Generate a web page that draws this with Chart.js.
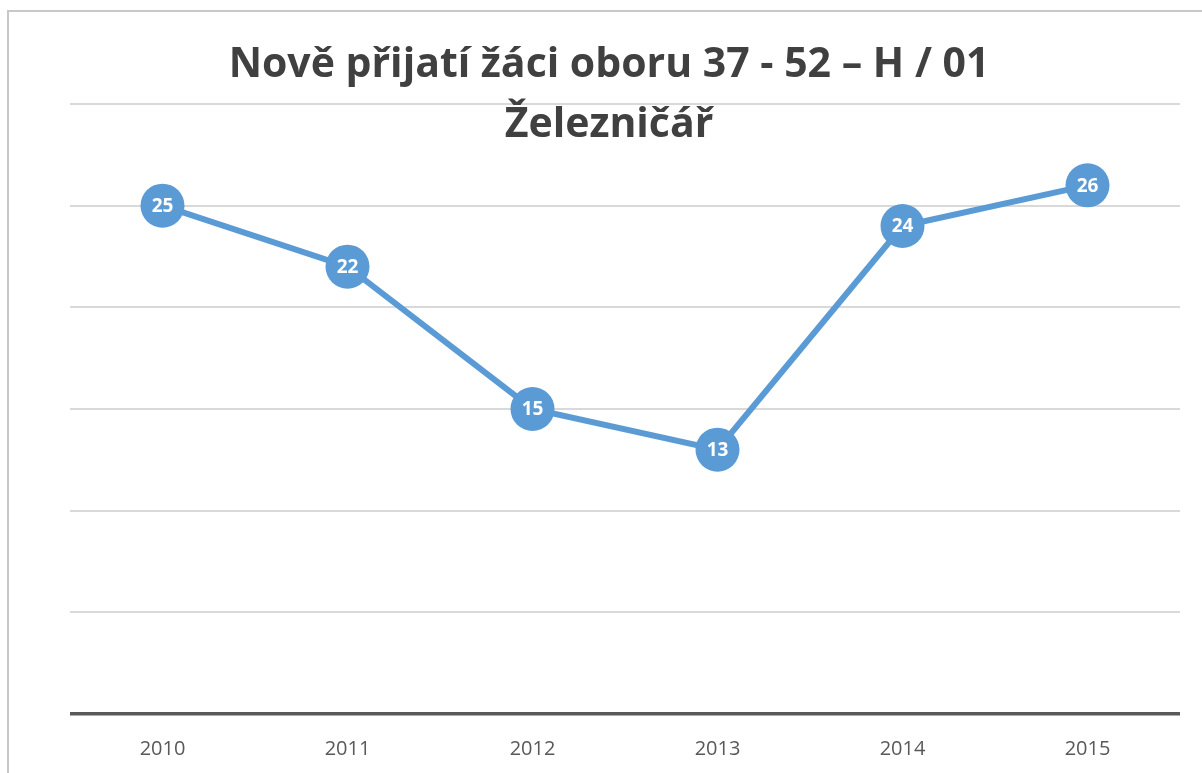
<!DOCTYPE html>
<html>
<head>
<meta charset="utf-8">
<script src="https://cdn.jsdelivr.net/npm/chart.js@4"></script>
<style>
    html, body { margin: 0; padding: 0; background: #ffffff; }
    #wrap { width: 1202px; height: 773px; position: relative; }
</style>
</head>
<body>
<div id="wrap"><canvas id="lineChart" width="1202" height="773"></canvas></div>
<script>
// Data
const years = ['2010', '2011', '2012', '2013', '2014', '2015'];
const students = [25, 22, 15, 13, 24, 26];
const titleLines = ['Nově přijatí žáci oboru 37 - 52 – H / 01', 'Železničář'];

const blue = '#5b9bd5';

// Frame + white background
const framePlugin = {
    id: 'frame',
    beforeDraw(chart) {
        const ctx = chart.ctx;
        ctx.save();
        ctx.fillStyle = '#ffffff';
        ctx.fillRect(0, 0, chart.width, chart.height);
        ctx.strokeStyle = '#c8c8c8';
        ctx.lineWidth = 2;
        ctx.strokeRect(8, 11, chart.width + 20, chart.height + 20);
        ctx.restore();
    }
};

// Title drawn over the plot (like the original)
const titlePlugin = {
    id: 'overTitle',
    afterDraw(chart) {
        const ctx = chart.ctx;
        ctx.save();
        ctx.fillStyle = '#404040';
        ctx.font = 'bold 41px "Open Sans", sans-serif';
        ctx.textAlign = 'center';
        ctx.textBaseline = 'alphabetic';
        ctx.fillText(titleLines[0], 609, 77);
        ctx.fillText(titleLines[1], 609, 137);
        ctx.restore();
    }
};

// Values inside the markers
const labelPlugin = {
    id: 'pointLabels',
    afterDatasetsDraw(chart) {
        const ctx = chart.ctx;
        const meta = chart.getDatasetMeta(0);
        ctx.save();
        ctx.fillStyle = '#ffffff';
        ctx.font = 'bold 19px "Open Sans", sans-serif';
        ctx.textAlign = 'center';
        ctx.textBaseline = 'middle';
        meta.data.forEach((pt, i) => {
            ctx.fillText(String(students[i]), pt.x, pt.y + 1);
        });
        ctx.restore();
    }
};

new Chart(document.getElementById('lineChart'), {
    type: 'line',
    data: {
        labels: years,
        datasets: [{
            data: students,
            borderColor: blue,
            backgroundColor: blue,
            borderWidth: 6,
            pointRadius: 22,
            pointHoverRadius: 22,
            pointBorderWidth: 0,
            pointBackgroundColor: blue,
            tension: 0,
            clip: false
        }]
    },
    options: {
        responsive: false,
        animation: false,
        events: [],
        layout: { padding: { left: 70, right: 21, top: 104, bottom: 0 } },
        plugins: {
            legend: { display: false },
            title: { display: false },
            tooltip: { enabled: false }
        },
        scales: {
            x: {
                offset: true,
                grid: { display: false },
                border: { display: false },
                ticks: {
                    color: '#595959',
                    font: { family: '"Open Sans", sans-serif', size: 20 },
                    padding: 15
                },
                afterFit(scale) { scale.height = 59; }
            },
            y: {
                min: 0,
                max: 30,
                ticks: { display: false, stepSize: 5 },
                border: { display: false },
                grid: {
                    drawTicks: false,
                    color: ctx => ctx.tick && ctx.tick.value === 0 ? '#595959' : '#d9d9d9',
                    lineWidth: ctx => ctx.tick && ctx.tick.value === 0 ? 3.5 : 2
                },
                afterFit(scale) { scale.width = 0; }
            }
        }
    },
    plugins: [framePlugin, labelPlugin, titlePlugin]
});
</script>
</body>
</html>
